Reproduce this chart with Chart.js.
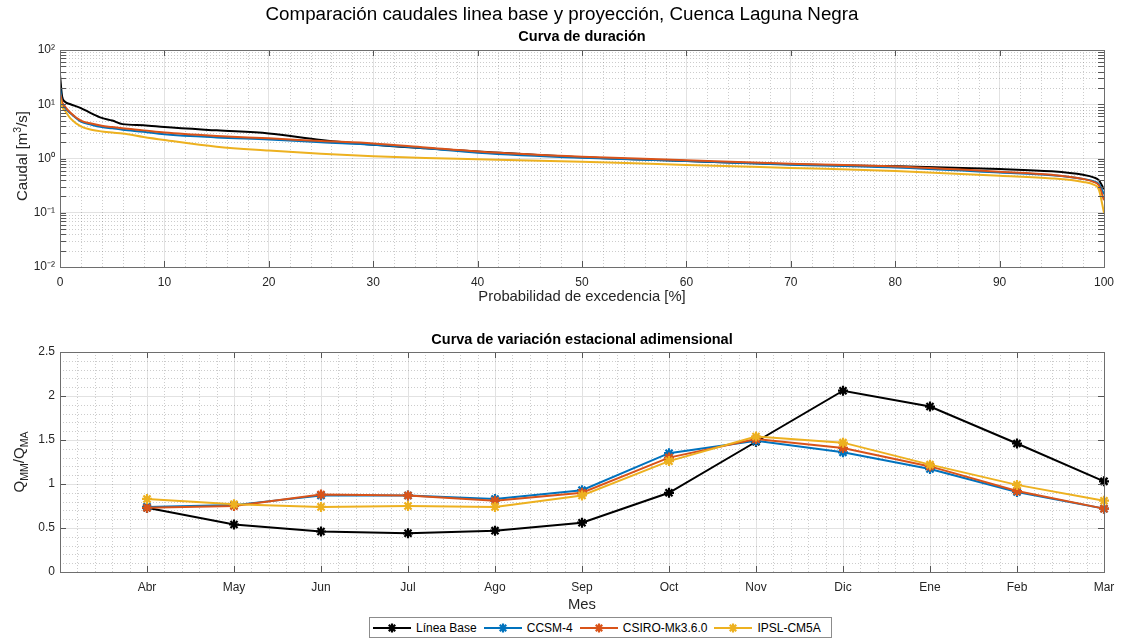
<!DOCTYPE html>
<html>
<head>
<meta charset="utf-8">
<script src="https://cdn.jsdelivr.net/npm/chart.js@4.4.0/dist/chart.umd.min.js"></script>
<style>
  body { margin: 0; background: #fff; font-family: "Liberation Sans", Arial, sans-serif; }
  #figura { position: relative; width: 1124px; height: 639px; overflow: hidden; }
  canvas { position: absolute; left: 0; }
  .titulo { position: absolute; left: 0; width: 1124px; text-align: center; color: #000; white-space: nowrap; }
  .subtitulo { position: absolute; left: 60px; width: 1044px; text-align: center; font-weight: bold; font-size: 14.5px; color: #000; white-space: nowrap; }
  .ytitulo { position: absolute; transform: translate(-50%, -50%) rotate(-90deg); font-size: 15px; color: #262626; white-space: nowrap; }
  .ytitulo sub { font-size: 10.5px; }
  .ytitulo sup { font-size: 10.5px; }
  #leyenda { position: absolute; left: 369px; top: 617px; height: 19px; border: 1px solid #8c8c8c; background: #fff;
             display: flex; align-items: center; padding: 0 4px 0 2px; font-size: 12px; color: #000; white-space: nowrap; }
  #leyenda .item { display: flex; align-items: center; margin-right: 6px; }
  #leyenda svg { margin-right: 4px; }
</style>
</head>
<body>
<div id="figura">
  <canvas id="curvaDuracion" width="1124" height="310" style="top:0"></canvas>
  <canvas id="curvaEstacional" width="1124" height="288" style="top:330px"></canvas>
  <div class="titulo" style="top:3px; font-size:18.8px;">Comparación caudales linea base y proyección, Cuenca Laguna Negra</div>
  <div class="subtitulo" style="top:28px;">Curva de duración</div>
  <div class="subtitulo" style="top:331px;">Curva de variación estacional adimensional</div>
  <div class="ytitulo" style="left:20px; top:156px;">Caudal [m<sup>3</sup>/s]</div>
  <div class="ytitulo" style="left:20px; top:462px;">Q<sub>MM</sub>/Q<sub>MA</sub></div>
  <div id="leyenda"></div>
</div>
<script>
// Series y colores
const series = ['Línea Base', 'CCSM-4', 'CSIRO-Mk3.6.0', 'IPSL-CM5A'];
const colores = ['#000000', '#0072BD', '#D95319', '#EDB120'];

// Curva de duración: probabilidad de excedencia [%] y caudal [m3/s]
const probabilidad = [0, 0.2, 0.5, 1, 2, 3, 4, 5, 6, 8, 10, 15, 20, 25, 30, 35, 40, 50, 60, 70, 80, 90, 95, 98, 99, 99.5, 100];
const caudalBase  = [35, 14, 11, 10, 8.5, 6.8, 5.6, 5.0, 4.3, 4.1, 3.8, 3.3, 2.9, 2.2, 1.8, 1.55, 1.35, 1.05, 0.9, 0.78, 0.72, 0.64, 0.58, 0.5, 0.45, 0.4, 0.27];
const caudalCCSM  = [21, 10.5, 8.5, 6.8, 4.8, 4.2, 3.8, 3.6, 3.4, 3.1, 2.8, 2.45, 2.25, 2.0, 1.8, 1.55, 1.28, 1.03, 0.9, 0.77, 0.68, 0.55, 0.49, 0.42, 0.38, 0.34, 0.22];
const caudalCSIRO = [16, 11, 9, 7, 5, 4.4, 4.0, 3.8, 3.6, 3.3, 3.0, 2.6, 2.35, 2.1, 1.9, 1.6, 1.35, 1.08, 0.93, 0.8, 0.71, 0.57, 0.5, 0.42, 0.37, 0.32, 0.17];
const caudalIPSL  = [13, 9, 7.5, 5.5, 3.9, 3.4, 3.15, 3.0, 2.9, 2.5, 2.2, 1.65, 1.4, 1.22, 1.1, 1.02, 0.97, 0.87, 0.76, 0.67, 0.59, 0.48, 0.43, 0.37, 0.33, 0.27, 0.1];

// Curva de variación estacional: QMM/QMA por mes
const meses = ['Abr', 'May', 'Jun', 'Jul', 'Ago', 'Sep', 'Oct', 'Nov', 'Dic', 'Ene', 'Feb', 'Mar'];
const qBase  = [0.73, 0.54, 0.46, 0.44, 0.47, 0.56, 0.90, 1.48, 2.06, 1.88, 1.46, 1.03];
const qCCSM  = [0.74, 0.76, 0.87, 0.87, 0.83, 0.93, 1.35, 1.49, 1.36, 1.17, 0.91, 0.72];
const qCSIRO = [0.73, 0.75, 0.88, 0.87, 0.81, 0.90, 1.30, 1.51, 1.41, 1.20, 0.92, 0.72];
const qIPSL  = [0.83, 0.77, 0.74, 0.75, 0.74, 0.87, 1.26, 1.54, 1.47, 1.22, 0.99, 0.81];

const decadas = [0.01, 0.1, 1, 10, 100];

const colorTexto = '#262626';
const fuenteTicks = { family: 'Liberation Sans, Arial, sans-serif', size: 12 };
const fuenteTitulo = { family: 'Liberation Sans, Arial, sans-serif', size: 14.8 };

// rejilla menor y marcas de ejes al estilo MATLAB
const ejesMatlab = {
  id: 'ejesMatlab',
  beforeDatasetsDraw(chart, args, opts) {
    const { ctx, chartArea: a } = chart;
    const x = chart.scales.x, y = chart.scales.y;
    ctx.save();
    ctx.strokeStyle = 'rgba(110,110,110,0.35)';
    ctx.lineWidth = 1;
    ctx.setLineDash([1, 2]);
    ctx.beginPath();
    opts.xMenor.forEach(v => {
      const px = Math.round(x.getPixelForValue(v)) + 0.5;
      ctx.moveTo(px, a.top); ctx.lineTo(px, a.bottom);
    });
    opts.yMenor.forEach(v => {
      const py = Math.round(y.getPixelForValue(v)) + 0.5;
      ctx.moveTo(a.left, py); ctx.lineTo(a.right, py);
    });
    ctx.stroke();
    ctx.restore();
  },
  afterDraw(chart, args, opts) {
    const { ctx, chartArea: a } = chart;
    const x = chart.scales.x, y = chart.scales.y;
    const L = 6;
    ctx.save();
    ctx.strokeStyle = '#555';
    ctx.lineWidth = 1;
    ctx.beginPath();
    x.ticks.forEach(t => {
      const px = Math.round(x.getPixelForValue(t.value)) + 0.5;
      ctx.moveTo(px, a.bottom); ctx.lineTo(px, a.bottom - L);
      ctx.moveTo(px, a.top); ctx.lineTo(px, a.top + L);
    });
    y.ticks.map(t => t.value).concat(opts.yMarcas).forEach(v => {
      const py = Math.round(y.getPixelForValue(v)) + 0.5;
      ctx.moveTo(a.left, py); ctx.lineTo(a.left + L, py);
      ctx.moveTo(a.right, py); ctx.lineTo(a.right - L, py);
    });
    ctx.stroke();
    ctx.strokeStyle = '#6e6e6e';
    ctx.strokeRect(Math.round(a.left) + 0.5, Math.round(a.top) + 0.5, Math.round(a.right - a.left), Math.round(a.bottom - a.top));
    ctx.restore();
  }
};

// ---- Curva de duración ----
const xMenorDur = [];
for (let k = 1; k < 50; k++) if (k % 5) xMenorDur.push(k * 2);
const yMenorDur = [];
[0.01, 0.1, 1, 10].forEach(d => { for (let m = 2; m <= 9; m++) yMenorDur.push(m * d); });

const caudales = [caudalBase, caudalCCSM, caudalCSIRO, caudalIPSL];
const sup = { '-': '⁻', '0': '⁰', '1': '¹', '2': '²' };

new Chart(document.getElementById('curvaDuracion'), {
  type: 'line',
  data: {
    datasets: series.map((nombre, i) => ({
      label: nombre,
      data: probabilidad.map((p, k) => ({ x: p, y: caudales[i][k] })),
      borderColor: colores[i],
      borderWidth: 2,
      pointRadius: 0,
      cubicInterpolationMode: 'monotone',
      fill: false,
      order: 3 - i
    }))
  },
  options: {
    responsive: false,
    animation: false,
    layout: { padding: { top: 50, right: 20, left: 0, bottom: 0 } },
    plugins: {
      legend: { display: false },
      tooltip: { enabled: false },
      ejesMatlab: { xMenor: xMenorDur, yMenor: yMenorDur, yMarcas: yMenorDur }
    },
    scales: {
      x: {
        type: 'linear', min: 0, max: 100,
        ticks: { stepSize: 10, padding: 8, color: colorTexto, font: fuenteTicks, maxRotation: 0 },
        grid: { color: '#e2e2e2', drawTicks: false },
        border: { display: false },
        title: { display: true, text: 'Probabilidad de excedencia [%]', color: colorTexto, font: fuenteTitulo },
        afterFit: s => { s.height = 43; }
      },
      y: {
        type: 'logarithmic', min: 0.01, max: 100,
        afterBuildTicks: s => { s.ticks = decadas.map(v => ({ value: v })); },
        ticks: {
          padding: 5, color: colorTexto, font: fuenteTicks,
          callback: v => '10' + String(Math.round(Math.log10(v))).split('').map(c => sup[c]).join('')
        },
        grid: { color: '#e2e2e2', drawTicks: false },
        border: { display: false },
        afterFit: s => { s.width = 60; }
      }
    }
  },
  plugins: [ejesMatlab]
});

// ---- Curva de variación estacional ----
const xMenorEst = [];
for (let k = 1; k < 60; k++) if (k % 5) xMenorEst.push(k / 5);
const yMenorEst = [];
for (let k = 1; k < 25; k++) if (k % 5) yMenorEst.push(k / 10);

const razones = [qBase, qCCSM, qCSIRO, qIPSL];

new Chart(document.getElementById('curvaEstacional'), {
  type: 'line',
  data: {
    datasets: series.map((nombre, i) => ({
      label: nombre,
      data: meses.map((m, k) => ({ x: k + 1, y: razones[i][k] })),
      borderColor: colores[i],
      backgroundColor: colores[i],
      borderWidth: 2,
      pointStyle: 'star',
      pointRadius: 5,
      pointBorderWidth: 2.2,
      pointBorderColor: colores[i],
      fill: false,
      clip: false,
      order: 3 - i
    }))
  },
  options: {
    responsive: false,
    animation: false,
    layout: { padding: { top: 22, right: 20, left: 0, bottom: 0 } },
    plugins: {
      legend: { display: false },
      tooltip: { enabled: false },
      ejesMatlab: { xMenor: xMenorEst, yMenor: yMenorEst, yMarcas: [] }
    },
    scales: {
      x: {
        type: 'linear', min: 0, max: 12,
        ticks: { stepSize: 1, padding: 8, color: colorTexto, font: fuenteTicks, maxRotation: 0, autoSkip: false,
                 callback: v => meses[v - 1] || '' },
        grid: { color: '#e2e2e2', drawTicks: false },
        border: { display: false },
        title: { display: true, text: 'Mes', color: colorTexto, font: fuenteTitulo },
        afterFit: s => { s.height = 46; }
      },
      y: {
        type: 'linear', min: 0, max: 2.5,
        ticks: { stepSize: 0.5, padding: 5, color: colorTexto, font: fuenteTicks,
                 callback: v => String(Math.round(v * 10) / 10) },
        grid: { color: '#e2e2e2', drawTicks: false },
        border: { display: false },
        afterFit: s => { s.width = 60; }
      }
    }
  },
  plugins: [ejesMatlab]
});

// Leyenda manual
const leyenda = document.getElementById('leyenda');
series.forEach((nombre, i) => {
  const item = document.createElement('span');
  item.className = 'item';
  const c = colores[i];
  item.innerHTML = `<svg width="40" height="12" viewBox="0 0 40 12">
      <line x1="1" y1="6" x2="39" y2="6" stroke="${c}" stroke-width="2"/>
      <g stroke="${c}" stroke-width="2.2">
        <line x1="15.5" y1="6" x2="24.5" y2="6"/><line x1="20" y1="1.5" x2="20" y2="10.5"/>
        <line x1="16.8" y1="2.8" x2="23.2" y2="9.2"/><line x1="16.8" y1="9.2" x2="23.2" y2="2.8"/>
      </g></svg>${nombre}`;
  leyenda.appendChild(item);
});
</script>
</body>
</html>
